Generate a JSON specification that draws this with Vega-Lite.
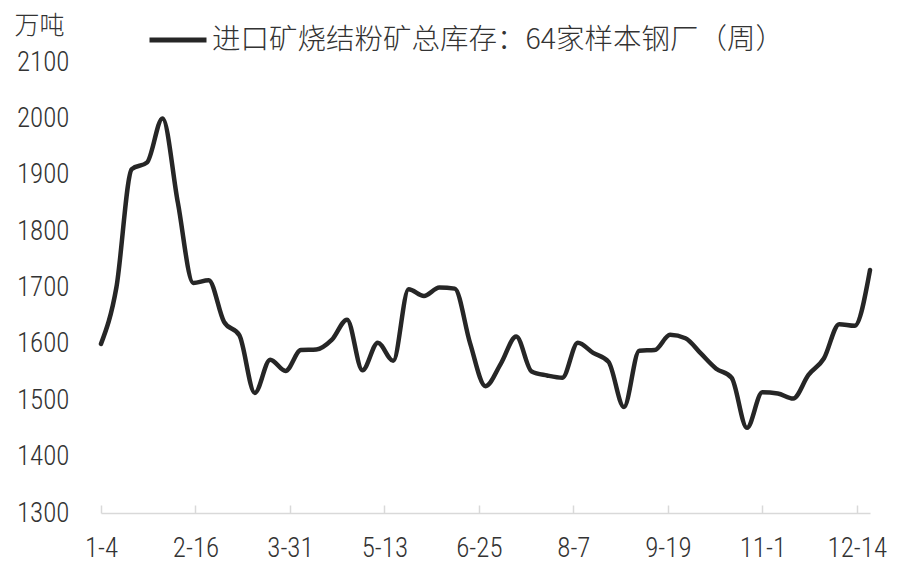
{
  "$schema": "https://vega.github.io/schema/vega-lite/v6.json",
  "width": 769,
  "height": 451,
  "autosize": {"type": "none"},
  "padding": {"left": 101, "top": 62, "right": 30, "bottom": 62},
  "background": "white",
  "config": {
    "view": {"stroke": null},
    "axis": {"grid": false, "labelColor": "#333333", "labelFont": "Liberation Sans Narrow, Arial Narrow, Roboto Condensed, Liberation Sans", "labelFontSize": 27, "labelFontWeight": 300}
  },
  "data": {
    "values": [
      {"date": "2019-01-04", "value": 1600, "series": "进口矿烧结粉矿总库存：64家样本钢厂（周）"},
      {"date": "2019-01-11", "value": 1700, "series": "进口矿烧结粉矿总库存：64家样本钢厂（周）"},
      {"date": "2019-01-18", "value": 1910, "series": "进口矿烧结粉矿总库存：64家样本钢厂（周）"},
      {"date": "2019-01-25", "value": 1922, "series": "进口矿烧结粉矿总库存：64家样本钢厂（周）"},
      {"date": "2019-02-01", "value": 2000, "series": "进口矿烧结粉矿总库存：64家样本钢厂（周）"},
      {"date": "2019-02-08", "value": 1850, "series": "进口矿烧结粉矿总库存：64家样本钢厂（周）"},
      {"date": "2019-02-15", "value": 1708, "series": "进口矿烧结粉矿总库存：64家样本钢厂（周）"},
      {"date": "2019-02-22", "value": 1713, "series": "进口矿烧结粉矿总库存：64家样本钢厂（周）"},
      {"date": "2019-03-01", "value": 1639, "series": "进口矿烧结粉矿总库存：64家样本钢厂（周）"},
      {"date": "2019-03-08", "value": 1615, "series": "进口矿烧结粉矿总库存：64家样本钢厂（周）"},
      {"date": "2019-03-15", "value": 1513, "series": "进口矿烧结粉矿总库存：64家样本钢厂（周）"},
      {"date": "2019-03-22", "value": 1572, "series": "进口矿烧结粉矿总库存：64家样本钢厂（周）"},
      {"date": "2019-03-29", "value": 1552, "series": "进口矿烧结粉矿总库存：64家样本钢厂（周）"},
      {"date": "2019-04-05", "value": 1589, "series": "进口矿烧结粉矿总库存：64家样本钢厂（周）"},
      {"date": "2019-04-12", "value": 1590, "series": "进口矿烧结粉矿总库存：64家样本钢厂（周）"},
      {"date": "2019-04-19", "value": 1607, "series": "进口矿烧结粉矿总库存：64家样本钢厂（周）"},
      {"date": "2019-04-26", "value": 1643, "series": "进口矿烧结粉矿总库存：64家样本钢厂（周）"},
      {"date": "2019-05-03", "value": 1553, "series": "进口矿烧结粉矿总库存：64家样本钢厂（周）"},
      {"date": "2019-05-10", "value": 1602, "series": "进口矿烧结粉矿总库存：64家样本钢厂（周）"},
      {"date": "2019-05-17", "value": 1570, "series": "进口矿烧结粉矿总库存：64家样本钢厂（周）"},
      {"date": "2019-05-24", "value": 1697, "series": "进口矿烧结粉矿总库存：64家样本钢厂（周）"},
      {"date": "2019-05-31", "value": 1685, "series": "进口矿烧结粉矿总库存：64家样本钢厂（周）"},
      {"date": "2019-06-07", "value": 1700, "series": "进口矿烧结粉矿总库存：64家样本钢厂（周）"},
      {"date": "2019-06-14", "value": 1698, "series": "进口矿烧结粉矿总库存：64家样本钢厂（周）"},
      {"date": "2019-06-21", "value": 1601, "series": "进口矿烧结粉矿总库存：64家样本钢厂（周）"},
      {"date": "2019-06-28", "value": 1525, "series": "进口矿烧结粉矿总库存：64家样本钢厂（周）"},
      {"date": "2019-07-05", "value": 1565, "series": "进口矿烧结粉矿总库存：64家样本钢厂（周）"},
      {"date": "2019-07-12", "value": 1613, "series": "进口矿烧结粉矿总库存：64家样本钢厂（周）"},
      {"date": "2019-07-19", "value": 1551, "series": "进口矿烧结粉矿总库存：64家样本钢厂（周）"},
      {"date": "2019-07-26", "value": 1544, "series": "进口矿烧结粉矿总库存：64家样本钢厂（周）"},
      {"date": "2019-08-02", "value": 1540, "series": "进口矿烧结粉矿总库存：64家样本钢厂（周）"},
      {"date": "2019-08-09", "value": 1602, "series": "进口矿烧结粉矿总库存：64家样本钢厂（周）"},
      {"date": "2019-08-16", "value": 1584, "series": "进口矿烧结粉矿总库存：64家样本钢厂（周）"},
      {"date": "2019-08-23", "value": 1568, "series": "进口矿烧结粉矿总库存：64家样本钢厂（周）"},
      {"date": "2019-08-30", "value": 1488, "series": "进口矿烧结粉矿总库存：64家样本钢厂（周）"},
      {"date": "2019-09-06", "value": 1588, "series": "进口矿烧结粉矿总库存：64家样本钢厂（周）"},
      {"date": "2019-09-13", "value": 1589, "series": "进口矿烧结粉矿总库存：64家样本钢厂（周）"},
      {"date": "2019-09-20", "value": 1616, "series": "进口矿烧结粉矿总库存：64家样本钢厂（周）"},
      {"date": "2019-09-27", "value": 1610, "series": "进口矿烧结粉矿总库存：64家样本钢厂（周）"},
      {"date": "2019-10-04", "value": 1583, "series": "进口矿烧结粉矿总库存：64家样本钢厂（周）"},
      {"date": "2019-10-11", "value": 1556, "series": "进口矿烧结粉矿总库存：64家样本钢厂（周）"},
      {"date": "2019-10-18", "value": 1540, "series": "进口矿烧结粉矿总库存：64家样本钢厂（周）"},
      {"date": "2019-10-25", "value": 1451, "series": "进口矿烧结粉矿总库存：64家样本钢厂（周）"},
      {"date": "2019-11-01", "value": 1514, "series": "进口矿烧结粉矿总库存：64家样本钢厂（周）"},
      {"date": "2019-11-08", "value": 1512, "series": "进口矿烧结粉矿总库存：64家样本钢厂（周）"},
      {"date": "2019-11-15", "value": 1503, "series": "进口矿烧结粉矿总库存：64家样本钢厂（周）"},
      {"date": "2019-11-22", "value": 1545, "series": "进口矿烧结粉矿总库存：64家样本钢厂（周）"},
      {"date": "2019-11-29", "value": 1574, "series": "进口矿烧结粉矿总库存：64家样本钢厂（周）"},
      {"date": "2019-12-06", "value": 1635, "series": "进口矿烧结粉矿总库存：64家样本钢厂（周）"},
      {"date": "2019-12-13", "value": 1632, "series": "进口矿烧结粉矿总库存：64家样本钢厂（周）"},
      {"date": "2019-12-20", "value": 1731, "series": "进口矿烧结粉矿总库存：64家样本钢厂（周）"}
    ]
  },
  "mark": {"type": "line", "interpolate": "monotone", "strokeWidth": 4.5, "strokeCap": "round", "strokeJoin": "round"},
  "encoding": {
    "x": {
      "field": "date",
      "type": "temporal",
      "scale": {
        "type": "utc",
        "domain": [
          {"year": 2019, "month": 1, "date": 4, "utc": true},
          {"year": 2019, "month": 12, "date": 20, "utc": true}
        ]
      },
      "axis": {
        "title": null,
        "format": "%-m-%-d",
        "values": [
          {"year": 2019, "month": 1, "date": 4, "utc": true},
          {"year": 2019, "month": 2, "date": 16, "utc": true},
          {"year": 2019, "month": 3, "date": 31, "utc": true},
          {"year": 2019, "month": 5, "date": 13, "utc": true},
          {"year": 2019, "month": 6, "date": 25, "utc": true},
          {"year": 2019, "month": 8, "date": 7, "utc": true},
          {"year": 2019, "month": 9, "date": 19, "utc": true},
          {"year": 2019, "month": 11, "date": 1, "utc": true},
          {"year": 2019, "month": 12, "date": 14, "utc": true}
        ],
        "domainColor": "#d9d9d9",
        "domainWidth": 1.5,
        "tickColor": "#d9d9d9",
        "tickWidth": 1.5,
        "tickSize": -8,
        "labelPadding": 30,
        "labelFlush": false,
        "labelOverlap": false
      }
    },
    "y": {
      "field": "value",
      "type": "quantitative",
      "scale": {"domain": [1300, 2100], "nice": false, "zero": false},
      "axis": {
        "title": "万吨",
        "titleFont": "Noto Sans CJK SC",
        "titleFontSize": 25,
        "titleFontWeight": 300,
        "titleColor": "#333333",
        "titleAngle": 0,
        "titleAlign": "left",
        "titleBaseline": "middle",
        "titleX": -87,
        "titleY": -37,
        "format": "d",
        "values": [1300, 1400, 1500, 1600, 1700, 1800, 1900, 2000, 2100],
        "domain": false,
        "ticks": false,
        "labelPadding": 32
      }
    },
    "color": {
      "field": "series",
      "type": "nominal",
      "scale": {"range": ["#262626"]},
      "legend": {
        "title": null,
        "orient": "none",
        "legendX": 46,
        "legendY": -53,
        "symbolType": "stroke",
        "symbolSize": 3249,
        "symbolStrokeWidth": 5,
        "labelFont": "Noto Sans CJK SC",
        "labelFontSize": 28.5,
        "labelFontWeight": 300,
        "labelColor": "#333333",
        "labelLimit": 0,
        "labelOffset": 3
      }
    }
  }
}
